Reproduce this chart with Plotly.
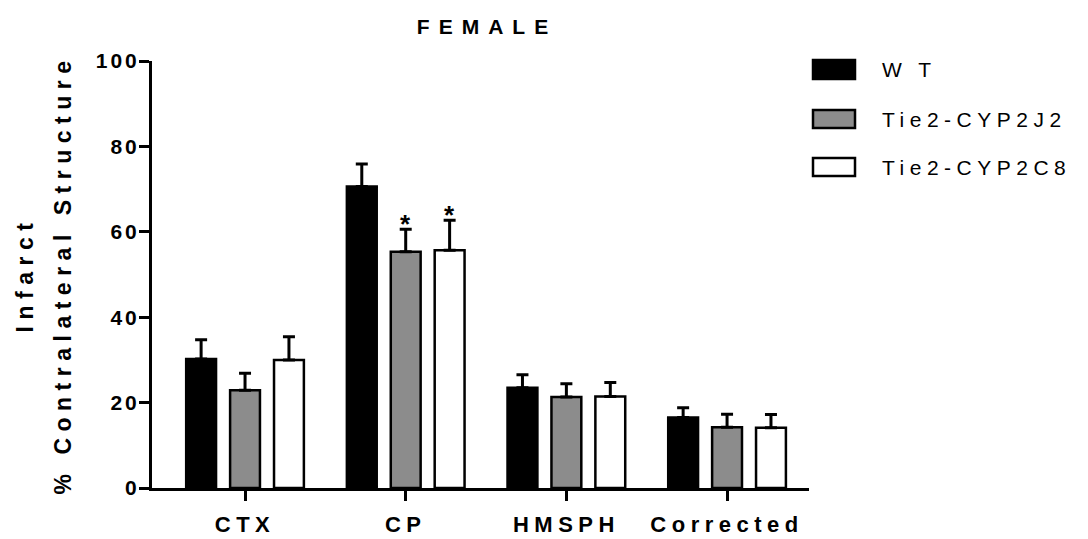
import plotly.graph_objects as go

categories = ["CTX", "CP", "HMSPH", "Corrected"]
series_names = ["W T", "Tie2-CYP2J2", "Tie2-CYP2C8"]
wt_mean = [30.2, 70.6, 23.5, 16.5]
wt_err = [4.5, 5.3, 3.0, 2.3]
j2_mean = [22.9, 55.3, 21.3, 14.2]
j2_err = [4.0, 5.3, 3.1, 3.1]
c8_mean = [30.0, 55.7, 21.4, 14.1]
c8_err = [5.4, 7.0, 3.3, 3.1]
y_ticks = [0, 20, 40, 60, 80, 100]
sig_marks = [("CP", 1, "*"), ("CP", 2, "*")]  # (category, series index, label)

fills = ["#000000", "#8c8c8c", "#ffffff"]
means = [wt_mean, j2_mean, c8_mean]
errs = [wt_err, j2_err, c8_err]

FONT = "Liberation Sans, Arial, sans-serif"

fig = go.Figure()
for name, m, e, c in zip(series_names, means, errs, fills):
    fig.add_trace(go.Bar(
        x=categories, y=m, name=name,
        marker=dict(color=c, line=dict(color="#000000", width=2.5)),
        error_y=dict(type="data", symmetric=False, array=e, arrayminus=[0] * len(e),
                     color="#000000", thickness=3, width=6),
        showlegend=False,
    ))

# significance asterisks
slot_px = 44
for cat, si, lab in sig_marks:
    i = categories.index(cat)
    top = means[si][i] + errs[si][i]
    fig.add_annotation(x=cat, y=top, xref="x", yref="y", text=lab, showarrow=False,
                       xshift=(si - 1) * slot_px, yanchor="bottom", yshift=-12,
                       font=dict(family=FONT, size=26, color="#000000", weight="bold"))

# custom legend (large rectangular swatches)
L, R, T, B = 152, 809, 61, 488
W, H = R - L, B - T
def px(xp):
    return (xp - L) / W
def py(yp):
    return (B - yp) / H
leg_rows = [(60, 79), (110, 128), (158, 176)]
for (y0, y1), name, c in zip(leg_rows, series_names, fills):
    fig.add_shape(type="rect", xref="paper", yref="paper",
                  x0=px(813), x1=px(855), y0=py(y1), y1=py(y0),
                  fillcolor=c, line=dict(color="#000000", width=2.5))
    fig.add_annotation(xref="paper", yref="paper", x=px(880), y=py((y0 + y1) / 2),
                       text=name, showarrow=False, xanchor="left", yanchor="middle",
                       align="left",
                       font=dict(family=FONT, size=21, color="#000000"))

fig.update_layout(
    width=1088, height=539,
    margin=dict(l=L, r=1088 - R, t=T, b=539 - B, autoexpand=False),
    paper_bgcolor="#ffffff", plot_bgcolor="#ffffff",
    barmode="group", bargap=0.18, bargroupgap=0.32,
    title=dict(text="FEMALE", x=px(487), xref="paper", xanchor="center",
               y=1 - 27 / 539, yref="container", yanchor="middle",
               font=dict(family=FONT, size=21, color="#000000", weight="bold")),
    xaxis=dict(range=[-0.579, 3.51], showgrid=False, zeroline=False,
               showline=True, linecolor="#000000", linewidth=3,
               ticks="outside", ticklen=10, tickwidth=3, tickcolor="#000000",
               ticklabelstandoff=5,
               tickfont=dict(family=FONT, size=22, color="#000000", weight="bold")),
    yaxis=dict(range=[0, 100], tickvals=y_ticks, showgrid=False, zeroline=False,
               showline=True, linecolor="#000000", linewidth=3,
               ticks="outside", ticklen=10, tickwidth=3, tickcolor="#000000",
               tickfont=dict(family=FONT, size=21, color="#000000", weight="bold"),
               title=dict(text="Infarct<br>% Contralateral Structure", standoff=30,
                          font=dict(family=FONT, size=23, color="#000000", weight="bold"))),
    font=dict(family=FONT, color="#000000"),
)

post = """
var gd = document.getElementById('{plot_id}');
function ls(sel, v){ gd.querySelectorAll(sel).forEach(function(t){ t.style.letterSpacing = v; }); }
ls('.xtick text', '5.5px');
ls('.ytick text', '3px');
gd.querySelectorAll('.ytick text').forEach(function(t){ t.setAttribute('dx', '5'); });
ls('.g-ytitle text', '6.5px');
var lines = gd.querySelectorAll('.g-ytitle text tspan.line');
if (lines.length > 1) { lines[1].setAttribute('dy', '1.65em'); }
ls('.g-gtitle text', '9px');
gd.querySelectorAll('.annotation-text').forEach(function(t){
  if ((t.textContent || '').length > 1) { t.style.letterSpacing = '5.5px'; }
});
"""

fig.write_html("out.html", post_script=post)
